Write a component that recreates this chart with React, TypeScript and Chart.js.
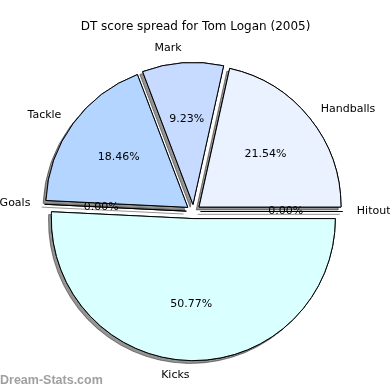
import React, { useEffect, useRef } from 'react';
import { Chart, registerables } from 'chart.js';

Chart.register(...registerables);

const TITLE = 'DT score spread for Tom Logan (2005)';
const WATERMARK = 'Dream-Stats.com';
// Drawn clockwise starting at 3 o'clock (same visual order as the reference)
const categories = ['Hitout', 'Kicks', 'Goals', 'Tackle', 'Mark', 'Handballs'];
const dtPoints = [0, 33, 0, 12, 6, 14];
const sliceColors = ['#f0f4ff', '#d9ffff', '#c0d0ff', '#b4d5ff', '#c7daff', '#eaf1ff'];

const EXPLODE = 0.05;
const SHADOW = 0.02;
const LABEL_DIST = 1.1;
const PCT_DIST = 0.6;
const FONT = '"DejaVu Sans", sans-serif';

export default function App() {
  const ref = useRef<HTMLCanvasElement>(null);

  useEffect(() => {
    if (!ref.current) return;
    const total = dtPoints.reduce((a, b) => a + b, 0);

    const drawArcs = (chart: any, arcs: any[]) => {
      const ctx = chart.ctx;
      arcs.forEach((arc: any) => {
        const { x, y, startAngle, endAngle, outerRadius } = arc;
        const mid = (startAngle + endAngle) / 2;
        const d = EXPLODE * outerRadius;
        ctx.save();
        ctx.translate(Math.cos(mid) * d, Math.sin(mid) * d);
        if (endAngle - startAngle > 0) {
          arc.draw(ctx);
        } else {
          ctx.beginPath();
          ctx.moveTo(x, y);
          ctx.lineTo(x + Math.cos(mid) * outerRadius, y + Math.sin(mid) * outerRadius);
          ctx.lineWidth = 1;
          ctx.strokeStyle = '#000';
          ctx.stroke();
        }
        ctx.restore();
      });
    };

    const piePlugin = {
      id: 'mplPie',
      beforeDatasetDraw(chart: any, args: any) {
        const ctx = chart.ctx;
        const arcs = args.meta.data;
        const R = arcs[0].outerRadius;
        ctx.save();
        ctx.shadowColor = 'rgba(0,0,0,0.42)';
        ctx.shadowBlur = 0;
        ctx.shadowOffsetX = -SHADOW * R;
        ctx.shadowOffsetY = SHADOW * R;
        drawArcs(chart, arcs);
        ctx.restore();
        drawArcs(chart, arcs);
        return false;
      },
      afterDatasetsDraw(chart: any) {
        const ctx = chart.ctx;
        const arcs = chart.getDatasetMeta(0).data;
        ctx.save();
        ctx.fillStyle = '#000';
        ctx.font = `11px ${FONT}`;
        ctx.textBaseline = 'middle';
        arcs.forEach((arc: any, i: number) => {
          const { x, y, startAngle, endAngle, outerRadius } = arc;
          const mid = (startAngle + endAngle) / 2;
          const d = EXPLODE * outerRadius;
          const c = Math.cos(mid);
          const s = Math.sin(mid);
          const pr = d + PCT_DIST * outerRadius;
          ctx.textAlign = 'center';
          ctx.fillText(((dtPoints[i] / total) * 100).toFixed(2) + '%', x + c * pr, y + s * pr);
          const lr = d + LABEL_DIST * outerRadius;
          ctx.textAlign = c > 0 ? 'left' : 'right';
          ctx.fillText(categories[i], x + c * lr, y + s * lr);
        });
        ctx.font = `12px ${FONT}`;
        ctx.textAlign = 'center';
        ctx.textBaseline = 'alphabetic';
        ctx.fillText(TITLE, 195.5, 30);
        ctx.font = 'bold 12.5px "Liberation Sans", sans-serif';
        ctx.fillStyle = '#a0a0a0';
        ctx.textAlign = 'left';
        ctx.fillText(WATERMARK, 0, 384);
        ctx.restore();
      },
    };

    const chart = new Chart(ref.current, {
      type: 'pie',
      data: {
        labels: categories,
        datasets: [
          {
            data: dtPoints,
            backgroundColor: sliceColors,
            borderColor: '#000',
            borderWidth: 1,
            hoverBorderWidth: 1,
            hoverOffset: 0,
            offset: 0,
          },
        ],
      },
      options: {
        responsive: false,
        animation: false,
        events: [],
        rotation: 90,
        layout: { padding: { left: 51, right: 54, top: 69, bottom: 36 } },
        plugins: {
          legend: { display: false },
          tooltip: { enabled: false },
          title: { display: false },
        },
      },
      plugins: [piePlugin],
    } as any);

    return () => chart.destroy();
  }, []);

  return (
    <div style={{ position: 'absolute', left: 0, top: 0, width: 390, height: 390, background: '#fff' }}>
      <canvas ref={ref} width={390} height={390} style={{ display: 'block' }} />
    </div>
  );
}
